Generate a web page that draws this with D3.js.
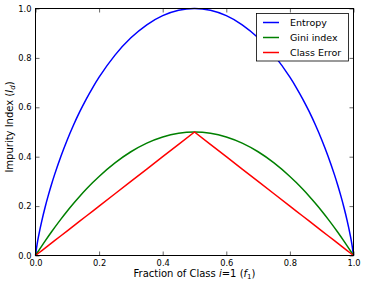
<!DOCTYPE html>
<html><head><meta charset="utf-8">
<script src="https://cdn.jsdelivr.net/npm/d3@7"></script>
<style>body{margin:0;background:#fff}svg{display:block;font-family:"DejaVu Sans",sans-serif}</style>
</head><body><div id="c"></div>
<script>
const fraction = [0,0.005,0.01,0.02,0.03,0.04,0.05,0.06,0.08,0.10,0.12,0.14,0.16,0.18,0.20,0.25,0.30,0.35,0.40,0.45,0.50,0.55,0.60,0.65,0.70,0.75,0.80,0.82,0.84,0.86,0.88,0.90,0.92,0.94,0.95,0.96,0.97,0.98,0.99,0.995,1.0];
const entropy = [0,0.0454,0.0808,0.1414,0.1944,0.2423,0.2864,0.3274,0.4022,0.4690,0.5294,0.5842,0.6343,0.6801,0.7219,0.8113,0.8813,0.9341,0.9710,0.9928,1.0,0.9928,0.9710,0.9341,0.8813,0.8113,0.7219,0.6801,0.6343,0.5842,0.5294,0.4690,0.4022,0.3274,0.2864,0.2423,0.1944,0.1414,0.0808,0.0454,0];
const gini = [0,0.0100,0.0198,0.0392,0.0582,0.0768,0.0950,0.1128,0.1472,0.1800,0.2112,0.2408,0.2688,0.2952,0.3200,0.3750,0.4200,0.4550,0.4800,0.4950,0.5000,0.4950,0.4800,0.4550,0.4200,0.3750,0.3200,0.2952,0.2688,0.2408,0.2112,0.1800,0.1472,0.1128,0.0950,0.0768,0.0582,0.0392,0.0198,0.0100,0];
const classError = [0,0.005,0.01,0.02,0.03,0.04,0.05,0.06,0.08,0.10,0.12,0.14,0.16,0.18,0.20,0.25,0.30,0.35,0.40,0.45,0.50,0.45,0.40,0.35,0.30,0.25,0.20,0.18,0.16,0.14,0.12,0.10,0.08,0.06,0.05,0.04,0.03,0.02,0.01,0.005,0];
const seriesNames = ["Entropy","Gini index","Class Error"];
const seriesColors = ["#0000ff","#008000","#ff0000"];
const tickValues = [0,0.2,0.4,0.6,0.8,1.0];

const W=365,H=285;
const L=35.5,R=353.5,T=8.5,B=255.5;
const svg=d3.select("#c").append("svg").attr("width",W).attr("height",H);
const x=d3.scaleLinear().domain([0,1]).range([L,R]);
const y=d3.scaleLinear().domain([0,1]).range([B,T]);

const series=[entropy,gini,classError];
const curves=[d3.curveMonotoneX,d3.curveMonotoneX,d3.curveLinear];
series.forEach((vals,i)=>{
  const line=d3.line().x((d,j)=>x(fraction[j])).y(d=>y(d)).curve(curves[i]);
  svg.append("path").datum(vals).attr("d",line).attr("fill","none")
    .attr("stroke",seriesColors[i]).attr("stroke-width",1.5).attr("stroke-linejoin","round");
});

// axes with inward ticks
const fmt=d3.format(".1f");
const gx=svg.append("g").attr("transform",`translate(0,${B})`)
  .call(d3.axisBottom(x).tickValues(tickValues).tickFormat(fmt).tickSizeInner(-4).tickSizeOuter(0).tickPadding(5));
const gxt=svg.append("g").attr("transform",`translate(0,${T})`)
  .call(d3.axisTop(x).tickValues(tickValues).tickFormat("").tickSizeInner(-4).tickSizeOuter(0));
const gy=svg.append("g").attr("transform",`translate(${L},0)`)
  .call(d3.axisLeft(y).tickValues(tickValues).tickFormat(fmt).tickSizeInner(-4).tickSizeOuter(0).tickPadding(4));
const gyr=svg.append("g").attr("transform",`translate(${R},0)`)
  .call(d3.axisRight(y).tickValues(tickValues).tickFormat("").tickSizeInner(-4).tickSizeOuter(0));
[gx,gxt,gy,gyr].forEach(g=>{
  g.select(".domain").remove();
  g.selectAll("line").attr("stroke","#000").attr("stroke-width",0.6);
  g.selectAll("text").attr("font-size",8.3).attr("fill","#000").attr("font-family","DejaVu Sans");
});
gx.selectAll("text").attr("dy","0.71em");
svg.append("rect").attr("x",L).attr("y",T).attr("width",R-L).attr("height",B-T)
  .attr("fill","none").attr("stroke","#000").attr("stroke-width",1);

// x label
const xl=svg.append("text").attr("x",(L+R)/2).attr("y",277).attr("text-anchor","middle").attr("font-size",10).attr("fill","#000");
xl.append("tspan").text("Fraction of Class ");
xl.append("tspan").attr("font-style","italic").text("i");
xl.append("tspan").text("=1 (");
xl.append("tspan").attr("font-style","italic").text("f");
xl.append("tspan").attr("font-size",7).attr("dy",2).text("1");
xl.append("tspan").attr("dy",-2).text(")");

// y label
const yl=svg.append("text").attr("transform",`translate(12.5,127) rotate(-90)`).attr("text-anchor","middle").attr("font-size",10).attr("fill","#000");
yl.append("tspan").text("Impurity Index (");
yl.append("tspan").attr("font-style","italic").text("I");
yl.append("tspan").attr("font-size",7).attr("font-style","italic").attr("dy",2).text("d");
yl.append("tspan").attr("dy",-2).text(")");

// legend
const lg=svg.append("g");
lg.append("rect").attr("x",256.5).attr("y",13.5).attr("width",92).attr("height",47.5).attr("fill","#fff").attr("stroke","#000").attr("stroke-width",0.8);
seriesNames.forEach((n,i)=>{
  const yy=22.5+i*15;
  lg.append("line").attr("x1",263).attr("x2",279).attr("y1",yy).attr("y2",yy).attr("stroke",seriesColors[i]).attr("stroke-width",1.5);
  lg.append("text").attr("x",290).attr("y",yy+3.5).attr("font-size",9.5).attr("fill","#000").text(n);
});
</script></body></html>
